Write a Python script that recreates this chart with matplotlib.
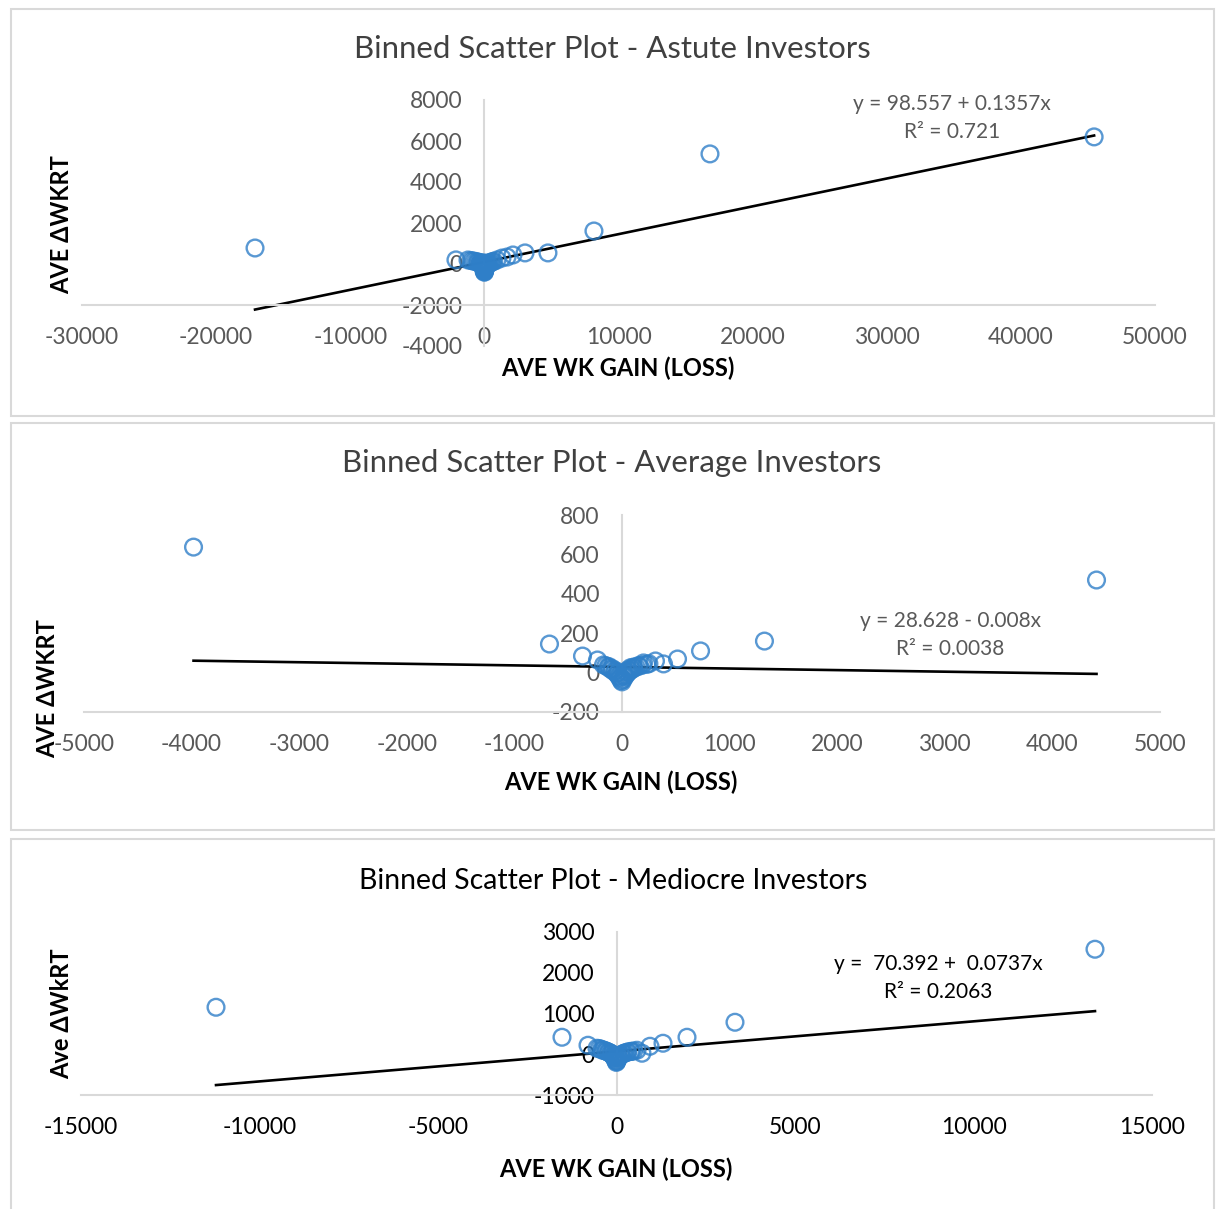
import matplotlib
matplotlib.use("Agg")
import matplotlib.pyplot as plt
from matplotlib.patches import Rectangle
import numpy as np

plt.rcParams['font.family'] = ['Lato', 'DejaVu Sans']

# ---- Astute investors (binned averages) ----
astute_gain = [-17100, -2120, -1220, -1000, -850, -700, -550, -480, -400, -320, -300, -250,
               -200, -180, -150, -120, -100, -80, -60, -50, -40, -20, -10, 0, 0, 10, 20,
               30, 50, 60, 100, 100, 150, 150, 200, 260, 280, 350, 420, 500, 600, 700,
               940, 1310, 1690, 2130, 3030, 4740, 8170, 16820, 45460]
astute_dwkrt = [780, 200, 195, 170, 146, 130, 100, 98, 60, 30, 60, -0, 60, -40, 20, -100,
                20, -160, -30, -80, -250, -200, -350, -400, -50, -380, -300, -300, -100,
                -220, -150, 50, -90, -10, -40, 20, 0, 30, 50, 80, 120, 130, 195, 290, 340,
                440, 540, 540, 1610, 5370, 6200]
astute_fit = (98.557, 0.1357)
astute_r2 = "0.721"

# ---- Average investors ----
average_gain = [-3982, -674, -367, -228, -172, -150, -130, -120, -110, -90, -90, -70, -60,
                -50, -40, -35, -20, -20, -8, 0, 10, 20, 25, 40, 40, 55, 60, 70, 80, 90,
                107, 110, 130, 150, 160, 190, 200, 230, 250, 311, 386, 516, 730, 1324, 4410]
average_dwkrt = [637, 145, 84, 64, 39, 35, 28, 30, 20, 12, 20, 5, 10, -5, 0, -15, -28,
                 -20, -40, -47, -35, -15, -22, -10, 5, 0, 15, 8, 25, 15, 28, 22, 28, 35,
                 33, 38, 49, 42, 45, 59, 44, 69, 110, 160, 470]
average_fit = (28.628, -0.008)
average_r2 = "0.0038"

# ---- Mediocre investors ----
mediocre_gain = [-11218, -1527, -798, -546, -480, -420, -400, -360, -300, -300, -250, -220,
                 -200, -160, -150, -120, -80, -80, -50, -30, -25, -5, 0, 10, 30, 50, 60,
                 90, 120, 130, 180, 200, 240, 300, 320, 400, 420, 480, 574, 714, 938, 1303,
                 1975, 3319, 13403]
mediocre_dwkrt = [1153, 417, 221, 147, 140, 120, 100, 100, 80, 80, 60, 50, 40, 15, 20,
                  -20, -60, -30, -100, -80, -150, -200, -180, -170, -120, -60, -80, -50,
                  -20, -20, 10, 20, 35, 50, 55, 70, 70, 80, 98, 25, 196, 270, 417, 785, 2577]
mediocre_fit = (70.392, 0.0737)
mediocre_r2 = "0.2063"

W, H = 1216, 1209
fig = plt.figure(figsize=(W / 100, H / 100), dpi=100)
fig.patch.set_facecolor("white")

GRAY = "#595959"
TITLE_GRAY = "#404040"
AXIS = "#d9d9d9"
MARKER = "#2F7FC8"


def fx(px):
    return px / W


def fy(py):
    return 1 - py / H


def panel_box(y0, y1):
    fig.add_artist(Rectangle((fx(11), fy(y1)), fx(1214) - fx(11), fy(y0) - fy(y1),
                             transform=fig.transFigure, fill=False,
                             edgecolor=AXIS, linewidth=1.5))


def make_panel(box, xlim, ylim, xticks, yticks, cross, gain, dwkrt, fit, r2, eq, color,
               tcolor, tsize, title, title_pos, xlabel, xlabel_pos, ylabel, ylabel_pos,
               eq_pos):
    left, right, top, bottom = box
    ax = fig.add_axes([fx(left), fy(bottom), fx(right) - fx(left), fy(top) - fy(bottom)])
    ax.set_facecolor("none")
    ax.set_xlim(*xlim)
    ax.set_ylim(*ylim)
    for s in ("top", "right"):
        ax.spines[s].set_visible(False)
    ax.spines["bottom"].set_position(("data", cross))
    ax.spines["left"].set_position(("data", 0))
    for s in ("bottom", "left"):
        ax.spines[s].set_color(AXIS)
        ax.spines[s].set_linewidth(1.5)
    ax.set_xticks(xticks)
    ax.set_yticks(yticks)
    ax.set_xticklabels([str(t) for t in xticks])
    ax.set_yticklabels([str(t) for t in yticks])
    ax.tick_params(axis="x", length=0, pad=15.5, labelsize=16.5, labelcolor=color)
    ax.tick_params(axis="y", length=0, pad=16, labelsize=16.5, labelcolor=color)

    # trend line across the data range
    xs = np.array([min(gain), max(gain)])
    ax.plot(xs, fit[0] + fit[1] * xs, color="black", lw=1.9, zorder=2, clip_on=False)
    ax.scatter(gain, dwkrt, s=145, facecolors="none", edgecolors=MARKER, alpha=0.8,
               linewidths=1.7, zorder=3, clip_on=False)

    fig.text(fx(title_pos[0]), fy(title_pos[1]), title, ha="center", va="center",
             fontsize=tsize, color=tcolor)
    fig.text(fx(xlabel_pos[0]), fy(xlabel_pos[1]), xlabel, ha="center", va="center",
             fontsize=17, fontweight="bold", color="black")
    fig.text(fx(ylabel_pos[0]), fy(ylabel_pos[1]), ylabel, ha="center", va="center",
             rotation=90, fontsize=17, fontweight="bold", color="black")
    fig.text(fx(eq_pos[0]), fy(eq_pos[1]), eq, ha="center", va="center",
             fontsize=15, color=color)
    fig.text(fx(eq_pos[0]), fy(eq_pos[1] + 28), "R² = " + r2, ha="center", va="center",
             fontsize=15, color=color)
    return ax


panel_box(9, 416)
panel_box(423, 830)
panel_box(839, 1215)

make_panel((82, 1155, 100, 346), (-30000, 50000), (-4000, 8000),
           list(range(-30000, 50001, 10000)), list(range(-4000, 8001, 2000)), -2000,
           astute_gain, astute_dwkrt, astute_fit, astute_r2,
           "y = 98.557 + 0.1357x", GRAY, TITLE_GRAY, 22.4,
           "Binned Scatter Plot - Astute Investors", (612, 49),
           "AVE WK GAIN (LOSS)", (618, 368), "AVE ΔWKRT", (62, 225), (952, 104))

make_panel((84, 1160, 515, 712), (-5000, 5000), (-200, 800),
           list(range(-5000, 5001, 1000)), list(range(-200, 801, 200)), -200,
           average_gain, average_dwkrt, average_fit, average_r2,
           "y = 28.628 - 0.008x", GRAY, TITLE_GRAY, 22.4,
           "Binned Scatter Plot - Average Investors", (612, 463),
           "AVE WK GAIN (LOSS)", (621, 782), "AVE ΔWKRT", (48, 689), (950, 621))

make_panel((81, 1152, 932, 1095), (-15000, 15000), (-1000, 3000),
           list(range(-15000, 15001, 5000)), list(range(-1000, 3001, 1000)), -1000,
           mediocre_gain, mediocre_dwkrt, mediocre_fit, mediocre_r2,
           "y =  70.392 +  0.0737x", "black", "black", 20.4,
           "Binned Scatter Plot - Mediocre Investors", (613, 881),
           "AVE WK GAIN (LOSS)", (616, 1169), "Ave ΔWkRT", (62, 1014), (938, 964))

fig.savefig("out.png", dpi=100, facecolor="white")
